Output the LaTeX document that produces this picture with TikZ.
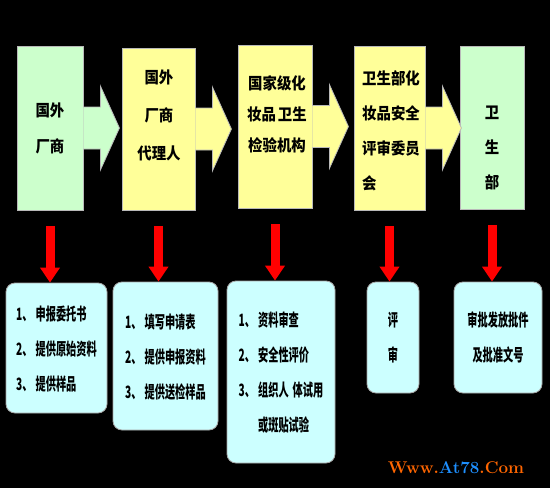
\documentclass[tikz,border=0pt]{standalone}
\usepackage{fontspec}
\usetikzlibrary{calc,arrows.meta}
\newfontfamily\cjk{Noto Sans CJK SC}[FakeStretch=0.9]
\newfontfamily\cjkn{Noto Sans CJK SC}[FakeStretch=0.6]
\definecolor{greenbg}{HTML}{CCFFCC}
\definecolor{yellowbg}{HTML}{FFFF99}
\definecolor{cyanbg}{HTML}{CCFFFF}
\definecolor{wmorange}{HTML}{FF6600}
\definecolor{wmblue}{HTML}{1E90FF}
\newcommand\toparrow[2]{%
  \filldraw[fill=#2, draw=gray!55, line width=0.8pt]
    ($(#1.east)+(0,-21)$) -- ++(17,0) -- ++(0,-21) -- ($(#1.east)+(36,0)$)
    -- ($(#1.east)+(17,42)$) -- ++(0,-21) -- ($(#1.east)+(0,21)$);}
\begin{document}
\begin{tikzpicture}[x=1pt,y=-1pt,
  topbox/.style={rectangle, draw=gray!55, line width=0.8pt, inner sep=0pt},
  toptext/.style={font=\cjk\bfseries\fontsize{16}{#1}\selectfont, inner sep=0pt},
  botbox/.style={rectangle, rounded corners=9pt, draw=gray!70, line width=0.8pt,
    fill=cyanbg, inner sep=0pt, align=center,
    font=\cjkn\bfseries\fontsize{17}{35}\selectfont},
  redarr/.style={draw=red, line width=9pt, -{Triangle[width=19pt,length=15pt]}}]
\useasboundingbox (0,0) rectangle (550,488);
\fill[black] (0,0) rectangle (550,488);
% top boxes
\node[topbox, fill=greenbg, minimum width=66pt, minimum height=164pt] (b1) at (50,128) {};
\node[topbox, fill=yellowbg, minimum width=73pt, minimum height=162pt] (b2) at (158.5,129) {};
\node[topbox, fill=yellowbg, minimum width=74pt, minimum height=163pt] (b3) at (275,126.5) {};
\node[topbox, fill=yellowbg, minimum width=71pt, minimum height=164pt] (b4) at (389.5,128) {};
\node[topbox, fill=greenbg, minimum width=64pt, minimum height=163pt] (b5) at (492,127.5) {};
\toparrow{b1}{greenbg}
\toparrow{b2}{yellowbg}
\toparrow{b3}{yellowbg}
\toparrow{b4}{yellowbg}
% top texts
\node[toptext=36, align=center] (t1) at (50,128) {国外\\厂商};
\node[toptext=38, align=center] (t2) at (159,115) {国外\\厂商\\代理人};
\node[toptext=31, align=center] (t3) at (277,114) {国家级化\\妆品\hspace{2pt}卫生\\检验机构};
\node[toptext=35, align=left, anchor=west] (t4) at (362,130.5) {卫生部化\\妆品安全\\评审委员\\会};
\node[toptext=35, align=center] (t5) at (492,148) {卫\\生\\部};
% bottom boxes
\node[botbox, minimum width=101pt, minimum height=130pt] (c1) at (56.5,348)
  {\begin{tabular}{@{}l@{\hspace{3pt}}l@{}}1、&申报委托书\\2、&提供原始资料\\3、&提供样品\end{tabular}};
\node[botbox, minimum width=105pt, minimum height=148pt] (c2) at (165.5,356)
  {\begin{tabular}{@{}l@{\hspace{3pt}}l@{}}1、&填写申请表\\2、&提供申报资料\\3、&提供送检样品\end{tabular}};
\node[botbox, minimum width=108pt, minimum height=182pt] (c3) at (281,372)
  {\begin{tabular}{@{}l@{\hspace{3pt}}l@{}}1、&资料审查\\2、&安全性评价\\3、&组织人\hspace{4pt}体试用\\&或斑贴试验\end{tabular}};
\node[botbox, minimum width=52pt, minimum height=111pt] (c4) at (393,337.5) {评\\审};
\node[botbox, minimum width=88pt, minimum height=111pt] (c5) at (498,337.5) {审批发放批件\\及批准文号};
% red arrows
\foreach \i in {1,...,5}
  \draw[redarr] ($(b\i.south)+(0,16)$) -- (b\i.south |- c\i.north);
% watermark
\node (wm) at (456,468) {\bfseries\fontsize{17}{17}\selectfont\textcolor{wmorange}{Www.}\textcolor{wmblue}{At78}\textcolor{wmorange}{.Com}};
\end{tikzpicture}
\end{document}
